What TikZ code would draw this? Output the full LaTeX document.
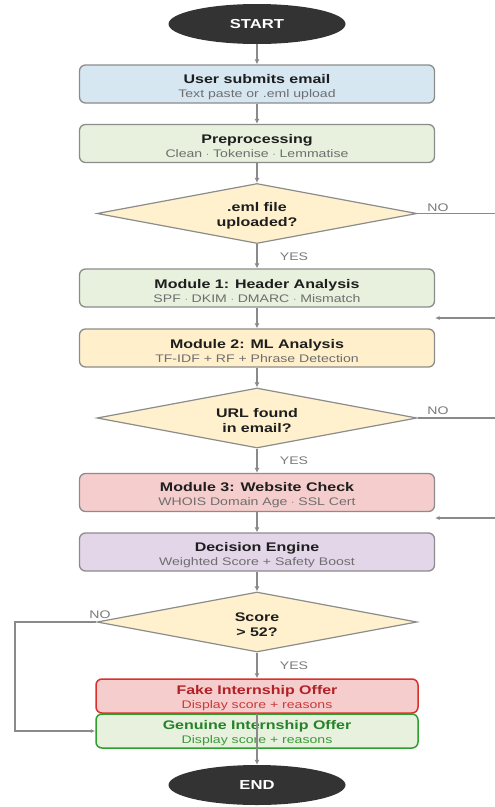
\documentclass[tikz,border=0pt]{standalone}
\usepackage{fontspec}
\setmainfont{Liberation Sans}[FakeStretch=1.28]
\usetikzlibrary{shapes.geometric,arrows.meta}
\definecolor{boxgray}{HTML}{8C8C8C}
\definecolor{arrowc}{HTML}{8A8A8A}
\definecolor{titlec}{HTML}{1E1E1E}
\definecolor{subc}{HTML}{6E6E6E}
\definecolor{labelc}{HTML}{7A7A7A}
\definecolor{termc}{HTML}{333333}
\definecolor{bluef}{HTML}{D6E7F2}
\definecolor{greenf}{HTML}{E7F1DD}
\definecolor{yellowf}{HTML}{FFF1CE}
\definecolor{modtwof}{HTML}{FFF0CB}
\definecolor{redf}{HTML}{F6CDCD}
\definecolor{purplef}{HTML}{E2D6E8}
\definecolor{fakeb}{HTML}{D9302C}
\definecolor{faket}{HTML}{B22028}
\definecolor{fakes}{HTML}{C8393A}
\definecolor{genb}{HTML}{2EA02E}
\definecolor{gent}{HTML}{25822A}
\definecolor{gens}{HTML}{3A9A3A}
\newcommand{\tline}[2]{{\rule{0pt}{14.5pt}\bfseries\fontsize{12.5}{14}\selectfont\color{titlec}#1}\\{\color{subc}#2}}
\newcommand{\dstrut}{\rule{0pt}{13.5pt}}
\begin{document}
\begin{tikzpicture}[x=1pt,y=-1pt,
  proc/.style={draw=boxgray, line width=1.3pt, rounded corners=6pt, minimum width=355pt,
    minimum height=38pt, align=center, inner sep=0pt, font=\fontsize{11}{14}\selectfont},
  result/.style={draw, line width=1.5pt, rounded corners=6pt, minimum width=322pt,
    minimum height=34pt, align=center, inner sep=0pt, font=\fontsize{11}{14}\selectfont},
  decision/.style={diamond, draw=boxgray, fill=yellowf, line width=1.2pt, minimum width=320pt,
    minimum height=60pt, aspect=5.33, inner sep=0pt, align=center, text=titlec,
    font=\bfseries\fontsize{12.5}{15}\selectfont},
  term/.style={ellipse, fill=termc, minimum width=177pt, minimum height=40pt, inner sep=0pt,
    text=white, font=\bfseries\fontsize{13}{15}\selectfont},
  flow/.style={draw=arrowc, line width=1.9pt, -{Latex[length=5pt,width=5pt]}},
  side/.style={draw=arrowc, line width=1.1pt},
  sidearrow/.style={side, -{Latex[length=4.5pt,width=4pt]}},
  lbl/.style={text=labelc, font=\fontsize{11}{13}\selectfont, inner sep=0pt}]
\useasboundingbox[fill=white] (0,0) rectangle (495,807);

\node[term] (start) at (257,24) {START};
\node[proc, fill=bluef] (submit) at (257,84) {\tline{User submits email}{Text paste or .eml upload}};
\node[proc, fill=greenf] (prep) at (257,143.5) {\tline{Preprocessing}{Clean $\cdot$ Tokenise $\cdot$ Lemmatise}};
\node[decision] (d1) at (257,213.5) {\dstrut.eml file\\uploaded?};
\node[proc, fill=greenf] (m1) at (257,288) {\tline{Module 1: Header Analysis}{SPF $\cdot$ DKIM $\cdot$ DMARC $\cdot$ Mismatch}};
\node[proc, fill=modtwof] (m2) at (257,348) {\tline{Module 2: ML Analysis}{TF-IDF + RF + Phrase Detection}};
\node[decision] (d2) at (257,418) {\dstrut URL found\\in email?};
\node[proc, fill=redf] (m3) at (257,492.5) {\tline{Module 3: Website Check}{WHOIS Domain Age $\cdot$ SSL Cert}};
\node[proc, fill=purplef] (eng) at (257,552) {\tline{Decision Engine}{Weighted Score + Safety Boost}};
\node[decision] (d3) at (257,622) {\dstrut Score\\> 52?};
\node[result, draw=fakeb, fill=redf] (fake) at (257,696)
  {{\rule{0pt}{13.5pt}\bfseries\fontsize{12.5}{14}\selectfont\color{faket}Fake Internship Offer}\\{\color{fakes}Display score + reasons}};
\node[result, draw=genb, fill=greenf] (gen) at (257,731)
  {{\rule{0pt}{13.5pt}\bfseries\fontsize{12.5}{14}\selectfont\color{gent}Genuine Internship Offer}\\{\color{gens}Display score + reasons}};
\node[term] (end) at (257,785) {END};

% main flow
\draw[flow] (start) -- (submit);
\draw[flow] (submit) -- (prep);
\draw[flow] (prep) -- (d1);
\draw[flow] (d1) -- (m1);
\draw[flow] (m1) -- (m2);
\draw[flow] (m2) -- (d2);
\draw[flow] (d2) -- (m3);
\draw[flow] (m3) -- (eng);
\draw[flow] (eng) -- (d3);
\draw[flow] (d3) -- (fake);
\draw[flow] (fake) -- (end);

% side branches
\coordinate (no1) at (495,213.5);
\coordinate (ret1s) at (495,318);
\coordinate (ret1e) at (435,318);
\coordinate (no2) at (495,418);
\coordinate (ret2s) at (495,518);
\coordinate (ret2e) at (435,518);
\coordinate (lft) at (15,622);
\draw[side] (d1.east) -- (no1);
\draw[sidearrow] (ret1s) -- (ret1e);
\draw[side] (d2.east) -- (no2);
\draw[sidearrow] (ret2s) -- (ret2e);
\draw[sidearrow, line width=1.4pt] (d3.west) -- (lft) |- (gen.west);

% labels
\node[lbl] (no1l) at (438,207.5) {NO};
\node[lbl] (yes1l) at (294,257) {YES};
\node[lbl] (no2l) at (438,410.5) {NO};
\node[lbl] (yes2l) at (294,461) {YES};
\node[lbl] (no3l) at (100,615) {NO};
\node[lbl] (yes3l) at (294,666) {YES};
\end{tikzpicture}
\end{document}
